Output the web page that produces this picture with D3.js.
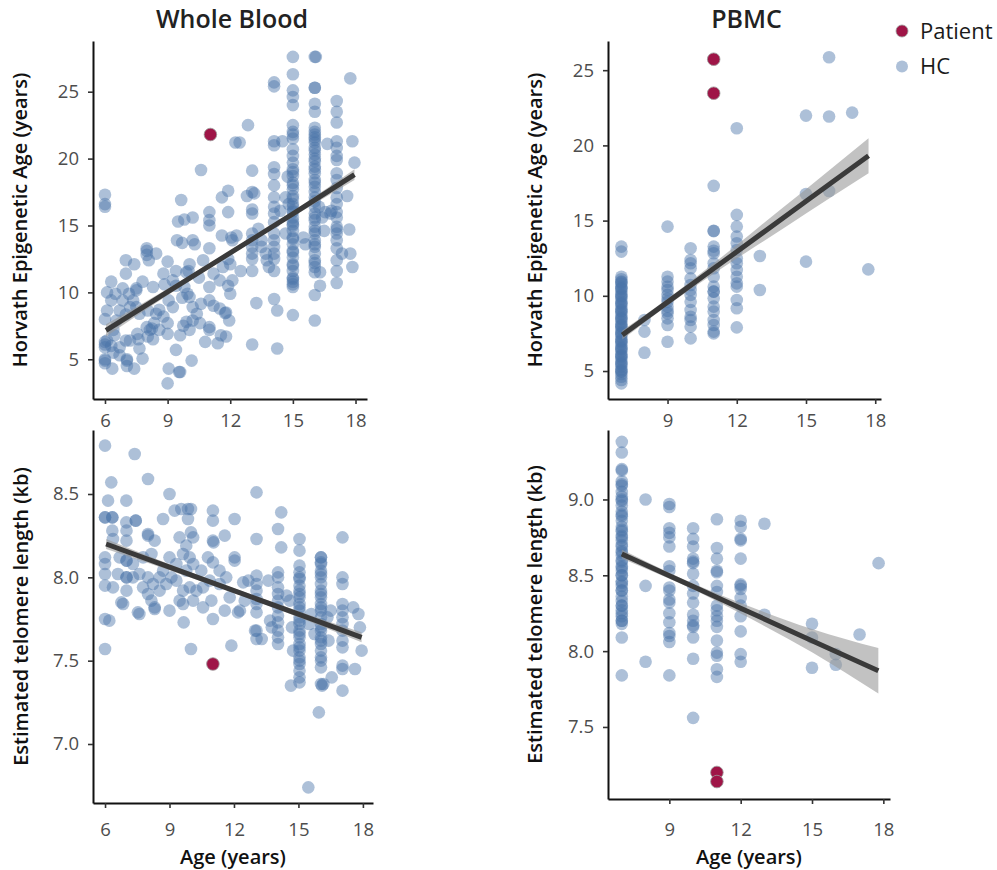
<!DOCTYPE html>
<html>
<head>
<meta charset="utf-8">
<script src="https://cdn.jsdelivr.net/npm/d3@7"></script>
<style>
	body { margin: 0; background: #fff; }
	svg text { font-family: "Open Sans", "Noto Sans", sans-serif; }
</style>
</head>
<body>
<div id="wrapper"></div>
<script>
// ---- data (age in years, value) ----
const xTicks = [6, 9, 12, 15, 18];
const xTicksPbmc = [9, 12, 15, 18];
const epiTicks = [5, 10, 15, 20, 25];
const teloTicksWb = [7.0, 7.5, 8.0, 8.5];
const teloTicksPbmc = [7.5, 8.0, 8.5, 9.0];

// Whole blood, Horvath epigenetic age
const wbEpiHC = [
	[6.0,17.3],[6.0,16.6],[6.0,16.4],[6.1,10.0],[6.3,10.8],[6.1,8.65],[6.0,8.0],[6.0,6.3],[6.0,6.1],[6.0,5.9],[6.0,5.0],[6.0,4.9],[6.0,4.7],
	[6.3,9.4],[6.35,4.3],[6.4,5.5],[6.4,7.2],[6.45,6.8],[6.5,9.9],[6.55,7.9],[6.7,8.65],[6.7,5.9],[6.7,5.3],[6.3,6.0],[6.1,6.4],
	[6.85,10.3],[6.85,9.4],[7.0,12.4],[7.0,11.4],[7.0,8.35],[7.0,6.4],[7.05,4.9],[7.05,5.0],[7.05,4.5],[7.15,9.9],[7.2,8.9],[7.2,6.4],
	[7.35,9.4],[7.4,12.1],[7.4,4.3],[7.5,10.15],[7.5,10.3],[7.5,8.9],[7.55,6.9],[7.6,6.5],[7.65,5.8],[7.65,8.4],[7.8,5.05],[7.8,10.8],
	[8.0,13.3],[8.0,12.8],[8.0,13.1],[8.1,12.4],[8.0,7.4],[8.05,8.65],[8.05,6.7],[8.15,7.2],[8.25,7.3],[8.3,6.5],[8.3,10.4],[8.35,7.7],
	[8.45,12.9],[8.45,8.4],[8.6,8.7],[8.6,7.2],[8.8,8.2],[8.8,11.4],[8.85,10.6],[9.0,12.3],[9.0,6.9],[9.0,7.7],[9.05,9.4],[9.05,4.3],[9.0,3.2],
	[9.25,8.9],[9.25,10.9],[9.4,10.5],[9.4,11.6],[9.4,5.7],[9.45,13.9],[9.5,15.3],[9.55,4.05],[9.6,4.05],[9.6,6.8],[9.65,16.9],[9.7,9.6],[9.7,13.7],
	[9.75,7.5],[9.8,15.45],[9.8,10.4],[9.9,11.5],[9.9,7.8],[9.95,9.9],[10.0,11.6],[10.05,12.1],[10.05,9.65],[10.05,7.2],[10.15,4.9],
	[10.2,13.9],[10.2,15.6],[10.2,7.9],[10.2,8.9],[10.3,13.6],[10.4,8.4],[10.5,11.1],[10.55,7.7],[10.6,19.15],[10.6,9.15],[10.7,12.4],[10.8,6.3],
	[11.0,16.0],[11.0,15.4],[11.0,15.0],[11.0,13.3],[11.0,10.4],[11.0,9.4],[11.0,7.4],[11.0,7.2],[11.2,11.4],[11.2,9.0],[11.4,6.2],[11.5,10.9],[11.5,8.8],
	[11.55,6.8],[11.6,17.1],[11.6,14.25],[11.65,11.9],[11.75,8.45],[11.9,17.6],[11.9,16.0],[11.9,12.5],[11.9,10.5],[11.95,7.9],[12.0,9.9],[12.05,14.1],
	[12.1,13.9],[12.3,14.25],[12.0,12.1],[12.1,10.9],[11.8,8.5],[11.8,6.7],[12.5,11.6],[12.25,21.2],[12.45,21.2],[12.85,22.5],[13.05,19.1],[12.8,17.2],[13.05,17.5],[13.15,17.4],
	[13.05,16.2],[13.05,15.9],[13.05,14.4],[13.05,13.9],[13.05,13.4],[13.05,12.9],[13.05,12.5],[13.05,11.6],[13.25,9.2],[13.05,6.1],
	[13.35,14.75],[13.5,13.4],[13.5,13.9],[13.7,12.9],[13.75,12.4],[13.85,11.9],
	[14.1,25.7],[14.1,25.4],[14.1,21.3],[14.1,21.0],[14.1,19.35],[14.1,18.85],[14.1,18.0],[14.1,17.1],[14.1,16.4],[14.1,15.9],[14.1,15.25],[14.1,14.4],
	[14.1,13.9],[14.1,13.4],[14.1,12.9],[14.1,12.5],[14.1,11.6],[14.1,9.5],[14.25,8.65],[14.25,5.8],
	[14.5,21.3],[14.4,16.1],[14.65,14.4],[14.75,18.65],[14.8,16.6],[14.65,17.1],
	[15.0,27.6],[15.0,26.3],[15.0,25.1],[15.0,24.6],[15.0,24.0],[15.0,22.5],[15.0,22.0],[15.0,21.5],[15.0,20.7],[15.0,20.2],[15.0,19.7],[15.0,19.2],
	[15.0,18.7],[15.0,18.2],[15.0,17.7],[15.0,17.2],[15.0,16.6],[15.0,16.1],[15.0,15.6],[15.0,15.1],[15.0,14.6],[15.0,14.1],[15.0,13.6],[15.0,13.1],
	[15.0,12.6],[15.0,12.1],[15.0,11.6],[15.0,11.1],[15.0,10.8],[15.0,10.4],[15.0,8.3],
	[15.0,19.0],[15.0,18.0],[15.0,17.0],[15.0,16.0],[15.0,15.0],[15.0,14.0],[15.0,13.0],[15.0,12.0],[15.0,11.0],[15.0,10.6],[15.0,16.4],[15.0,15.3],[15.0,21.8],
	[15.5,14.1],[15.6,13.6],
	[16.05,27.6],[16.1,27.6],[16.05,25.3],[16.05,25.3],[16.05,24.1],[16.05,23.5],[16.05,22.3],[16.05,22.0],[16.05,21.6],[16.05,21.2],[16.05,20.8],[16.05,20.3],
	[16.05,19.8],[16.05,19.4],[16.05,18.9],[16.05,18.4],[16.05,17.9],[16.05,17.1],[16.05,16.4],[16.05,15.9],[16.05,15.4],[16.05,14.9],[16.05,14.4],[16.05,13.9],
	[16.05,13.4],[16.05,12.9],[16.05,12.4],[16.05,11.9],[16.05,11.5],[16.05,9.8],[16.05,7.9],
	[16.05,21.8],[16.05,21.4],[16.05,20.6],[16.05,20.0],[16.05,19.2],[16.05,18.2],[16.05,17.5],[16.05,16.8],[16.05,15.6],[16.05,14.6],[16.05,13.6],[16.05,12.2],
	[16.3,11.5],[16.3,10.5],[16.55,16.0],[16.4,15.6],[16.65,21.1],[16.25,16.4],[16.85,16.1],[16.8,15.9],[16.5,14.6],
	[17.1,24.3],[17.1,23.5],[17.1,22.7],[17.1,21.3],[17.1,20.8],[17.1,20.2],[17.1,18.9],[17.1,18.4],[17.1,17.1],[17.1,16.6],[17.1,15.6],[17.1,14.9],
	[17.1,14.4],[17.1,13.9],[17.1,13.3],[17.1,12.4],[17.1,11.6],[17.1,10.7],[17.1,19.9],[17.1,17.8],[17.1,16.0],[17.1,14.7],
	[17.75,26.0],[17.85,21.3],[17.95,19.7],[17.7,14.7],[17.75,12.9],[17.85,11.9],[17.6,17.2],[17.35,12.9],
];
const wbEpiPatient = [[11.05, 21.8]];
const wbEpiFitAge = [6.05, 9, 12, 15, 17.95];
const wbEpiFit = [7.16, 10.03, 12.95, 15.87, 18.8];
const wbEpiHalfCI = [0.45, 0.25, 0.15, 0.2, 0.4];

// PBMC, Horvath epigenetic age
const pbmcEpiHC = [
	[7,13.27],[7,12.94],[7,11.27],[7,11.1],[7,10.94],[7,10.8],[7,10.6],[7,10.45],[7,10.28],[7,10.1],[7,9.94],[7,9.8],[7,9.6],[7,9.45],[7,9.28],
	[7,9.1],[7,8.95],[7,8.8],[7,8.6],[7,8.45],[7,8.28],[7,8.1],[7,7.95],[7,7.8],[7,7.6],[7,7.45],[7,7.28],[7,7.1],[7,6.95],[7,6.8],[7,6.6],
	[7,6.45],[7,6.3],[7,6.1],[7,5.95],[7,5.8],[7,5.62],[7,5.45],[7,5.29],[7,5.1],[7,4.96],[7,4.8],[7,4.62],[7,4.4],[7,4.18],
	[7,10.9],[7,10.5],[7,10.0],[7,9.5],[7,9.0],[7,8.5],[7,8.0],[7,7.5],[7,7.0],[7,6.5],[7,6.0],[7,5.5],[7,5.0],
	[8,8.39],[8,7.62],[8,6.22],
	[9,14.6],[9,11.27],[9,10.94],[9,10.6],[9,10.39],[9,10.06],[9,9.8],[9,9.6],[9,9.28],[9,9.0],[9,8.84],[9,8.5],[9,8.06],[9,6.95],
	[10,13.16],[10,12.38],[10,12.16],[10,11.83],[10,11.16],[10,10.72],[10,10.39],[10,10.06],[10,9.6],[10,9.06],[10,8.61],[10,8.39],[10,7.95],[10,7.17],
	[11,17.31],[11,14.33],[11,14.3],[11,13.27],[11,13.0],[11,12.83],[11,12.16],[11,11.83],[11,11.27],[11,10.61],[11,10.28],[11,10.28],[11,9.83],
	[11,9.28],[11,8.95],[11,8.39],[11,8.06],[11,7.62],[11,7.5],
	[12,21.14],[12,15.38],[12,14.6],[12,13.94],[12,13.49],[12,13.05],[12,12.49],[12,12.16],[12,11.72],[12,11.27],[12,10.83],[12,10.61],[12,9.72],[12,9.17],[12,7.9],
	[13,12.65],[13,10.39],
	[15,21.98],[15,16.77],[15,12.27],
	[16,25.86],[16,21.92],[16,16.97],
	[17,22.18],
	[17.7,11.76],
];
const pbmcEpiPatient = [[11, 25.73], [11, 23.47]];
const pbmcEpiFitAge = [7.04, 9, 11, 12, 13, 15, 17.71];
const pbmcEpiFit = [7.39, 9.58, 11.81, 12.93, 14.05, 16.28, 19.31];
const pbmcEpiHalfCI = [0.3, 0.22, 0.35, 0.45, 0.58, 0.8, 1.16];

// Whole blood, telomere length
const wbTeloHC = [
	[6.0,8.79],[7.38,8.74],[6.29,8.57],[8.0,8.59],[6.14,8.46],[6.99,8.46],[9.0,8.5],
	[6.0,8.36],[6.0,8.36],[6.34,8.36],[6.34,8.36],[6.99,8.33],[7.43,8.34],[7.43,8.34],[8.7,8.35],
	[9.24,8.4],[9.55,8.41],[9.86,8.41],[10.0,8.41],[9.86,8.35],[11.02,8.4],[11.02,8.34],[12.03,8.35],
	[6.34,8.28],[6.37,8.23],[7.0,8.28],[7.0,8.22],[8.0,8.26],[8.0,8.25],[8.31,8.22],
	[10.0,8.27],[9.47,8.24],[10.1,8.24],[9.78,8.19],[11.02,8.22],[11.05,8.21],[11.57,8.25],
	[6.0,8.12],[6.0,8.08],[6.0,8.02],[6.0,7.95],[6.6,8.02],[6.68,8.12],[7.0,8.1],[7.0,8.1],[7.0,8.0],[7.0,8.0],[7.0,7.92],
	[7.3,8.08],[7.6,8.02],[7.77,8.12],[8.16,8.14],[8.0,8.0],[8.23,7.96],[8.0,7.9],[8.16,7.86],[8.31,7.82],[8.54,7.92],[8.7,8.04],
	[9.0,8.12],[9.09,8.0],[9.32,8.08],[9.63,8.14],[9.94,8.12],[10.1,8.08],
	[9.0,7.8],[9.47,7.86],[9.63,7.92],[9.94,7.94],[10.1,7.86],[10.25,7.92],[10.48,8.04],[10.79,8.12],[11.02,8.09],[11.33,8.04],[11.64,8.0],[12.03,8.12],[12.03,8.1],
	[10.56,7.82],[10.95,7.86],[11.02,7.75],[11.57,7.8],[12.19,7.79],
	[6.76,7.85],[6.84,7.84],[7.53,7.79],[7.6,7.78],[8.31,7.81],[6.0,7.75],[6.2,7.74],[9.66,7.73],[6.0,7.57],[10.0,7.57],[11.88,7.59],
	[8.54,8.0],[8.85,7.96],[9.32,7.98],[9.78,8.04],[10.56,7.94],[10.87,7.98],[11.33,7.96],[11.8,7.88],[7.3,8.0],[6.37,7.94],[7.77,7.94],[9.63,7.84],
	[13.05,8.51],[14.2,8.39],[14.05,8.29],[13.05,8.23],[14.2,8.18],[15.05,8.23],[15.05,8.16],[17.05,8.24],
	[16.05,8.12],[16.05,8.12],[16.05,8.09],[16.05,8.08],[16.05,8.04],[16.05,8.0],[16.05,7.96],[16.05,7.92],[16.05,7.88],[16.05,7.84],[16.05,7.8],
	[16.05,7.76],[16.05,7.72],[16.05,7.68],[16.05,7.64],[16.05,7.6],[16.05,7.56],[16.05,7.5],[16.05,7.46],[16.05,7.36],[16.1,7.35],
	[16.05,8.02],[16.05,7.9],[16.05,7.82],[16.05,7.7],[16.05,7.62],[16.05,7.52],
	[15.05,8.07],[15.05,8.03],[15.05,7.99],[15.05,7.95],[15.05,7.92],[15.05,7.88],[15.05,7.84],[15.05,7.8],[15.05,7.76],[15.05,7.72],
	[15.05,7.68],[15.05,7.64],[15.05,7.6],[15.05,7.56],[15.05,7.52],[15.05,7.48],[15.05,7.44],[15.05,7.4],[15.05,7.37],
	[15.05,8.0],[15.05,7.9],[15.05,7.82],[15.05,7.74],[15.05,7.66],[15.05,7.58],[15.05,7.5],
	[14.05,8.03],[14.05,8.0],[14.05,7.94],[14.05,7.9],[14.05,7.86],[14.05,7.82],[14.05,7.77],[14.05,7.73],[14.05,7.68],[14.05,7.64],[14.05,7.6],
	[13.05,8.01],[13.05,7.96],[13.05,7.92],[13.05,7.87],[13.05,7.84],[13.05,7.79],[13.05,7.68],[13.05,7.63],
	[17.05,8.0],[17.05,7.96],[17.05,7.84],[17.05,7.8],[17.05,7.76],[17.05,7.72],[17.05,7.68],[17.05,7.62],[17.05,7.58],[17.05,7.47],[17.05,7.45],
	[17.55,7.82],[17.79,7.78],[17.86,7.7],[17.94,7.56],[17.63,7.45],[17.05,7.32],[14.65,7.35],[16.55,7.4],[16.16,7.36],
	[12.28,7.8],[13.6,7.98],[13.68,7.74],[13.76,7.7],[13.29,7.63],[14.45,7.89],[14.6,7.86],[14.7,7.7],[14.75,7.56],
	[15.6,7.78],[15.75,7.66],[15.5,7.72],[16.35,7.76],[16.4,7.62],[16.5,7.8],[12.67,7.98],[12.43,7.97],[12.98,7.68],[12.5,7.86],
	[15.46,6.74],[15.95,7.19],
];
const wbTeloPatient = [[11.02, 7.48]];
const wbTeloFitAge = [6.05, 9, 12, 15, 17.94];
const wbTeloFit = [8.2, 8.061, 7.92, 7.779, 7.64];
const wbTeloHalfCI = [0.03, 0.018, 0.014, 0.018, 0.03];

// PBMC, telomere length
const pbmcTeloHC = [
	[7,9.38],[7,9.31],[7,9.2],[7,9.19],[7,9.12],[7,9.09],[7,9.05],[7,9.02],[7,8.99],[7,8.96],[7,8.92],[7,8.89],[7,8.86],[7,8.82],[7,8.79],
	[7,8.76],[7,8.73],[7,8.69],[7,8.66],[7,8.63],[7,8.59],[7,8.56],[7,8.53],[7,8.5],[7,8.46],[7,8.43],[7,8.4],[7,8.36],[7,8.33],[7,8.3],
	[7,8.27],[7,8.23],[7,8.2],[7,8.18],[7,8.09],[7,7.84],
	[7,9.1],[7,9.0],[7,8.9],[7,8.8],[7,8.7],[7,8.6],[7,8.5],[7,8.45],[7,8.4],[7,8.3],[7,8.2],[7,8.25],[7,8.65],[7,8.75],[7,8.55],
	[8,9.0],[8,8.43],[8,7.93],
	[9,8.97],[9,8.95],[9,8.81],[9,8.78],[9,8.75],[9,8.69],[9,8.56],[9,8.53],[9,8.42],[9,8.4],[9,8.34],[9,8.32],[9,8.25],[9,8.19],[9,8.12],[9,8.1],[9,8.06],[9,7.84],
	[10,8.81],[10,8.74],[10,8.69],[10,8.61],[10,8.59],[10,8.58],[10,8.51],[10,8.43],[10,8.38],[10,8.32],[10,8.24],[10,8.2],[10,8.17],[10,8.16],[10,8.09],[10,7.95],[10,7.56],
	[11,8.87],[11,8.68],[11,8.61],[11,8.53],[11,8.52],[11,8.43],[11,8.39],[11,8.3],[11,8.27],[11,8.23],[11,8.2],[11,8.16],[11,8.07],[11,7.99],[11,7.97],[11,7.88],[11,7.83],
	[12,8.86],[12,8.82],[12,8.74],[12,8.73],[12,8.61],[12,8.44],[12,8.43],[12,8.41],[12,8.35],[12,8.3],[12,8.23],[12,8.13],[12,7.98],[12,7.93],
	[13,8.84],[13,8.24],
	[15,8.18],[15,8.09],[15,7.89],
	[16,7.98],[16,7.91],
	[17,8.11],
	[17.8,8.58],
];
const pbmcTeloPatient = [[11, 7.2], [11, 7.14]];
const pbmcTeloFitAge = [7.0, 9, 10, 12, 15, 17.79];
const pbmcTeloFit = [8.64, 8.497, 8.426, 8.283, 8.069, 7.87];
const pbmcTeloHalfCI = [0.03, 0.02, 0.02, 0.035, 0.077, 0.15];

const drawChart = () => {
	const dimensions = { width: 997, height: 870 };

	const svg = d3
		.select("#wrapper")
		.append("svg")
		.attr("width", dimensions.width)
		.attr("height", dimensions.height);

	const hcColor = "#4a73a8";
	const patientColor = "#9f1547";

	const panels = [
		{
			left: 93, right: 367, top: 41, bottom: 399,
			xDomain: [5.426, 18.55], yDomain: [2.03, 28.79],
			xTicks: xTicks, yTicks: epiTicks, yFormat: d3.format("d"),
			hc: wbEpiHC, patient: wbEpiPatient,
			fitAge: wbEpiFitAge, fit: wbEpiFit, half: wbEpiHalfCI,
			xPad: 10, yTitle: "Horvath Epigenetic Age (years)", yTitleX: 20,
			title: "Whole Blood",
		},
		{
			left: 608, right: 881, top: 41, bottom: 399,
			xDomain: [6.42, 18.25], yDomain: [3.14, 26.94],
			xTicks: xTicksPbmc, yTicks: epiTicks, yFormat: d3.format("d"),
			hc: pbmcEpiHC, patient: pbmcEpiPatient,
			fitAge: pbmcEpiFitAge, fit: pbmcEpiFit, half: pbmcEpiHalfCI,
			xPad: 10, yTitle: "Horvath Epigenetic Age (years)", yTitleX: 535,
			title: "PBMC",
		},
		{
			left: 93, right: 373, top: 430, bottom: 803,
			xDomain: [5.44, 18.47], yDomain: [6.646, 8.884],
			xTicks: xTicks, yTicks: teloTicksWb, yFormat: d3.format(".1f"),
			hc: wbTeloHC, patient: wbTeloPatient,
			fitAge: wbTeloFitAge, fit: wbTeloFit, half: wbTeloHalfCI,
			xPad: 15, yTitle: "Estimated telomere length (kb)", yTitleX: 21,
			xTitle: "Age (years)",
		},
		{
			left: 608, right: 890, top: 430, bottom: 799,
			xDomain: [6.42, 18.28], yDomain: [7.025, 9.458],
			xTicks: xTicksPbmc, yTicks: teloTicksPbmc, yFormat: d3.format(".1f"),
			hc: pbmcTeloHC, patient: pbmcTeloPatient,
			fitAge: pbmcTeloFitAge, fit: pbmcTeloFit, half: pbmcTeloHalfCI,
			xPad: 19, yTitle: "Estimated telomere length (kb)", yTitleX: 535,
			xTitle: "Age (years)",
		},
	];

	panels.forEach((p) => {
		const xScale = d3.scaleLinear().domain(p.xDomain).range([p.left, p.right]);
		const yScale = d3.scaleLinear().domain(p.yDomain).range([p.bottom, p.top]);

		const bounds = svg.append("g");

		// HC points
		bounds
			.append("g")
			.selectAll("circle")
			.data(p.hc)
			.join("circle")
			.attr("cx", (d) => xScale(d[0]))
			.attr("cy", (d) => yScale(d[1]))
			.attr("r", 6.3)
			.attr("fill", hcColor)
			.attr("fill-opacity", 0.45);

		// confidence band + fit line
		const fitData = p.fitAge.map((a, i) => ({ age: a, fit: p.fit[i], half: p.half[i] }));
		const areaGenerator = d3
			.area()
			.x((d) => xScale(d.age))
			.y0((d) => yScale(d.fit - d.half))
			.y1((d) => yScale(d.fit + d.half))
			.curve(d3.curveMonotoneX);
		bounds
			.append("path")
			.attr("d", areaGenerator(fitData))
			.attr("fill", "#999999")
			.attr("fill-opacity", 0.6);

		const lineGenerator = d3
			.line()
			.x((d) => xScale(d.age))
			.y((d) => yScale(d.fit));
		bounds
			.append("path")
			.attr("d", lineGenerator(fitData))
			.attr("fill", "none")
			.attr("stroke", "#3a3a3a")
			.attr("stroke-width", 5);

		// patient points
		bounds
			.append("g")
			.selectAll("circle")
			.data(p.patient)
			.join("circle")
			.attr("cx", (d) => xScale(d[0]))
			.attr("cy", (d) => yScale(d[1]))
			.attr("r", 6.3)
			.attr("fill", patientColor)
			.attr("stroke", "#9a9a9a")
			.attr("stroke-width", 0.8);

		// axes
		const yAxis = svg
			.append("g")
			.attr("transform", `translate(${p.left}, 0)`)
			.call(
				d3.axisLeft(yScale).tickValues(p.yTicks).tickFormat(p.yFormat)
					.tickSize(5).tickSizeOuter(0).tickPadding(9)
			);
		const xAxis = svg
			.append("g")
			.attr("transform", `translate(0, ${p.bottom})`)
			.call(
				d3.axisBottom(xScale).tickValues(p.xTicks).tickFormat(d3.format("d"))
					.tickSize(5).tickSizeOuter(0).tickPadding(p.xPad)
			);
		[xAxis, yAxis].forEach((ax) => {
			ax.select(".domain").attr("stroke", "#111").attr("stroke-width", 2);
			ax.selectAll(".tick line").attr("stroke", "#333").attr("stroke-width", 1.6);
			ax.selectAll(".tick text")
				.attr("fill", "#4d4d4d")
				.style("font-size", "18.5px");
		});

		// axis titles
		const yMid = (p.top + p.bottom) / 2;
		svg
			.append("text")
			.attr("transform", `translate(${p.yTitleX}, ${yMid}) rotate(-90)`)
			.attr("text-anchor", "middle")
			.attr("dy", "0.35em")
			.attr("fill", "#111")
			.style("font-size", "20px")
			.style("font-weight", 600)
			.text(p.yTitle);

		if (p.xTitle) {
			svg
				.append("text")
				.attr("x", (p.left + p.right) / 2)
				.attr("y", 864)
				.attr("text-anchor", "middle")
				.attr("fill", "#111")
				.style("font-size", "20px")
				.style("font-weight", 600)
				.text(p.xTitle);
		}
		if (p.title) {
			svg
				.append("text")
				.attr("x", (p.left + p.right) / 2 + 2)
				.attr("y", 28)
				.attr("text-anchor", "middle")
				.attr("fill", "#222")
				.style("font-size", "25px")
				.style("font-weight", 600)
				.text(p.title);
		}
	});

	// legend
	const legendItems = ["Patient", "HC"];
	const legendY = d3.scalePoint().domain(legendItems).range([31, 66.5]);
	const legend = svg.append("g");
	legend
		.selectAll("circle")
		.data(legendItems)
		.join("circle")
		.attr("cx", 902)
		.attr("cy", (d) => legendY(d))
		.attr("r", 6)
		.attr("fill", (d) => (d === "Patient" ? patientColor : hcColor))
		.attr("fill-opacity", (d) => (d === "Patient" ? 1 : 0.45))
		.attr("stroke", (d) => (d === "Patient" ? "#9a9a9a" : "none"))
		.attr("stroke-width", 0.8);
	legend
		.selectAll("text")
		.data(legendItems)
		.join("text")
		.attr("x", 920)
		.attr("y", (d) => legendY(d))
		.attr("dy", "0.35em")
		.attr("fill", "#1a1a1a")
		.style("font-size", "22px")
		.text((d) => d);
};

drawChart();
</script>
</body>
</html>
